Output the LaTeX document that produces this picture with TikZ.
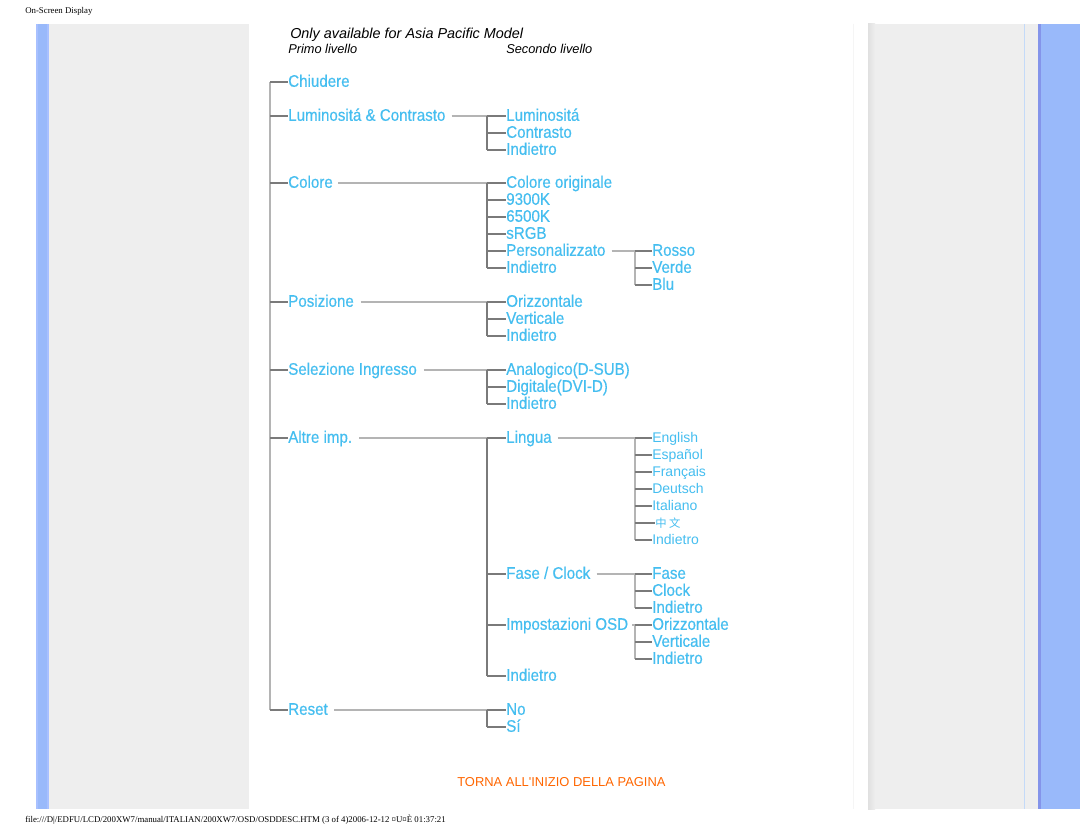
\documentclass[tikz,border=0pt]{standalone}
\usepackage{fontspec}
\usepackage{tikz}
\usepackage{xcolor}
\setmainfont{Liberation Serif}
\newfontfamily\osdfont[FakeStretch=0.9,FakeBold=0.4]{Liberation Sans}
\newfontfamily\langfont{Liberation Sans}
\newfontfamily\cjkfont{Noto Sans CJK SC}
\definecolor{osdblue}{HTML}{45BEF0}
\definecolor{linelt}{HTML}{B4B4B4}
\definecolor{linedk}{HTML}{7A7A7A}
\definecolor{panelgrey}{HTML}{EEEEEE}
\definecolor{barlt}{HTML}{A8C0FF}
\definecolor{barmd}{HTML}{99B9FA}
\definecolor{bardk}{HTML}{8494EA}
\definecolor{paleline}{HTML}{C4DAF8}
\definecolor{topback}{HTML}{FF6600}

\begin{document}
\begin{tikzpicture}[x=0.75pt,y=-0.75pt,
    item/.style={anchor=west,inner sep=0pt,text height=0.72em,text depth=0pt,text=osdblue,font=\osdfont\fontsize{12.6pt}{14pt}\selectfont},
    lang/.style={item,font=\langfont\fontsize{10.5pt}{12pt}\selectfont},
    gline/.style={linelt,line width=1.5pt},
    dline/.style={linedk,line width=0.8pt},
    tinytext/.style={anchor=base west,inner sep=0pt,font=\fontsize{6.6pt}{8pt}\selectfont}]
    \useasboundingbox (0,0) rectangle (1080,834);
    \fill[white] (0,0) rectangle (1080,834);
        \fill[barlt] (36,24) rectangle (49,809);
        \fill[barmd] (38,24) rectangle (47,809);
        \fill[panelgrey] (49,24) rectangle (249,809);
        \draw[white!96!black] (853.5,24) -- (853.5,809);
        \fill[panelgrey] (868,24) rectangle (1038,809);
        \fill[left color=black!12,right color=panelgrey] (868,24) rectangle (875,809);
        \draw[paleline] (1024.5,24) -- (1024.5,809);
        \fill[barmd] (1038,24) rectangle (1080,809);
        \fill[bardk] (1038,24) rectangle (1041,809);
        \node[tinytext] (pagehead) at (25,14) {On-Screen Display};
        \node[tinytext] (pagefoot) at (25,822) {file:///D|/EDFU/LCD/200XW7/manual/ITALIAN/200XW7/OSD/OSDDESC.HTM (3 of 4)2006-12-12 ¤U¤È 01:37:21};
        \node[anchor=base west,inner sep=0pt,font=\langfont\itshape\fontsize{10.8pt}{12pt}\selectfont] (asia) at (290,39) {Only available for Asia Pacific Model};
        \node[anchor=base west,inner sep=0pt,font=\langfont\itshape\fontsize{9.6pt}{11pt}\selectfont] (primo) at (288,53.5) {Primo livello};
        \node[anchor=base west,inner sep=0pt,font=\langfont\itshape\fontsize{9.6pt}{11pt}\selectfont] (secondo) at (506,53.5) {Secondo livello};
        \node[anchor=base west,inner sep=0pt,text=topback,font=\langfont\fontsize{9.7pt}{11pt}\selectfont] (torna) at (457,786) {TORNA ALL'INIZIO DELLA PAGINA};

        \coordinate (mainx) at (270,0);
        \coordinate (subx) at (487,0);
        \coordinate (thirdx) at (635,0);

        \node[item] (chiudere) at (288,82) {Chiudere};
        \node[item] (lumcon) at (288,116) {Luminositá \& Contrasto};
        \node[item] (colore) at (288,183) {Colore};
        \node[item] (posiz) at (288,302) {Posizione};
        \node[item] (selez) at (288,370) {Selezione Ingresso};
        \node[item] (altre) at (288,438) {Altre imp.};
        \node[item] (reset) at (288,710) {Reset};

        \node[item] (lum) at (506,116) {Luminositá};
        \node[item] (contr) at (506,133) {Contrasto};
        \node[item] (indA) at (506,150) {Indietro};
        \node[item] (origin) at (506,183) {Colore originale};
        \node[item] (knove) at (506,200) {9300K};
        \node[item] (ksei) at (506,217) {6500K};
        \node[item] (srgb) at (506,234) {sRGB};
        \node[item] (pers) at (506,251) {Personalizzato};
        \node[item] (indB) at (506,268) {Indietro};
        \node[item] (orizA) at (506,302) {Orizzontale};
        \node[item] (vertA) at (506,319) {Verticale};
        \node[item] (indC) at (506,336) {Indietro};
        \node[item] (analog) at (506,370) {Analogico(D-SUB)};
        \node[item] (digit) at (506,387) {Digitale(DVI-D)};
        \node[item] (indD) at (506,404) {Indietro};
        \node[item] (lingua) at (506,438) {Lingua};
        \node[item] (faseclk) at (506,574) {Fase / Clock};
        \node[item] (osd) at (506,625) {Impostazioni OSD};
        \node[item] (indE) at (506,676) {Indietro};
        \node[item] (no) at (506,710) {No};
        \node[item] (si) at (506,727) {Sí};

        \node[item] (rosso) at (652,251) {Rosso};
        \node[item] (verde) at (652,268) {Verde};
        \node[item] (blu) at (652,285) {Blu};
        \node[lang] (english) at (652,438) {English};
        \node[lang] (espanol) at (652,455) {Español};
        \node[lang] (francais) at (652,472) {Français};
        \node[lang] (deutsch) at (652,489) {Deutsch};
        \node[lang] (italiano) at (652,506) {Italiano};
        \node[lang,font=\cjkfont\fontsize{8.5pt}{10pt}\selectfont] (cinese) at (655,523) {中\ 文};
        \node[lang] (indF) at (652,540) {Indietro};
        \node[item] (fase) at (652,574) {Fase};
        \node[item] (clock) at (652,591) {Clock};
        \node[item] (indG) at (652,608) {Indietro};
        \node[item] (orizB) at (652,625) {Orizzontale};
        \node[item] (vertB) at (652,642) {Verticale};
        \node[item] (indH) at (652,659) {Indietro};

        \draw[gline] (mainx |- chiudere.west) -- (mainx |- reset.west);
        \foreach \n in {chiudere,lumcon,colore,posiz,selez,altre,reset}
            \draw[dline] (mainx |- \n.west) -- (\n.west);

        \draw[gline] ([xshift=4.5pt]lumcon.east) -- (subx |- lumcon.east);
        \draw[gline] ([xshift=4pt]colore.east) -- (subx |- colore.east);
        \draw[gline] ([xshift=5pt]posiz.east) -- (subx |- posiz.east);
        \draw[gline] ([xshift=5pt]selez.east) -- (subx |- selez.east);
        \draw[gline] ([xshift=5pt]altre.east) -- (subx |- altre.east);
        \draw[gline] ([xshift=4.5pt]reset.east) -- (subx |- reset.east);

        \draw[dline] (subx |- lum.west) -- (subx |- indA.west);
        \draw[dline] (subx |- origin.west) -- (subx |- indB.west);
        \draw[dline] (subx |- orizA.west) -- (subx |- indC.west);
        \draw[dline] (subx |- analog.west) -- (subx |- indD.west);
        \draw[dline] (subx |- lingua.west) -- (subx |- indE.west);
        \draw[dline] (subx |- no.west) -- (subx |- si.west);
        \foreach \n in {lum,contr,indA,origin,knove,ksei,srgb,pers,indB,orizA,vertA,indC,analog,digit,indD,lingua,faseclk,osd,indE,no,si}
            \draw[dline] (subx |- \n.west) -- (\n.west);

        \draw[gline] ([xshift=4.5pt]pers.east) -- (thirdx |- pers.east);
        \draw[gline] ([xshift=4.5pt]lingua.east) -- (thirdx |- lingua.east);
        \draw[gline] ([xshift=4.5pt]faseclk.east) -- (thirdx |- faseclk.east);
        \draw[gline] ([xshift=3pt]osd.east) -- (thirdx |- osd.east);

        \draw[gline] (thirdx |- rosso.west) -- (thirdx |- blu.west);
        \draw[gline] (thirdx |- english.west) -- (thirdx |- indF.west);
        \draw[gline] (thirdx |- fase.west) -- (thirdx |- indG.west);
        \draw[gline] (thirdx |- orizB.west) -- (thirdx |- indH.west);
        \foreach \n in {rosso,verde,blu,english,espanol,francais,deutsch,italiano,indF,fase,clock,indG,orizB,vertB,indH}
            \draw[dline] (thirdx |- \n.west) -- (\n.west);
        \draw[dline] (thirdx |- cinese.west) -- (cinese.west);
    \end{tikzpicture}
\end{document}
